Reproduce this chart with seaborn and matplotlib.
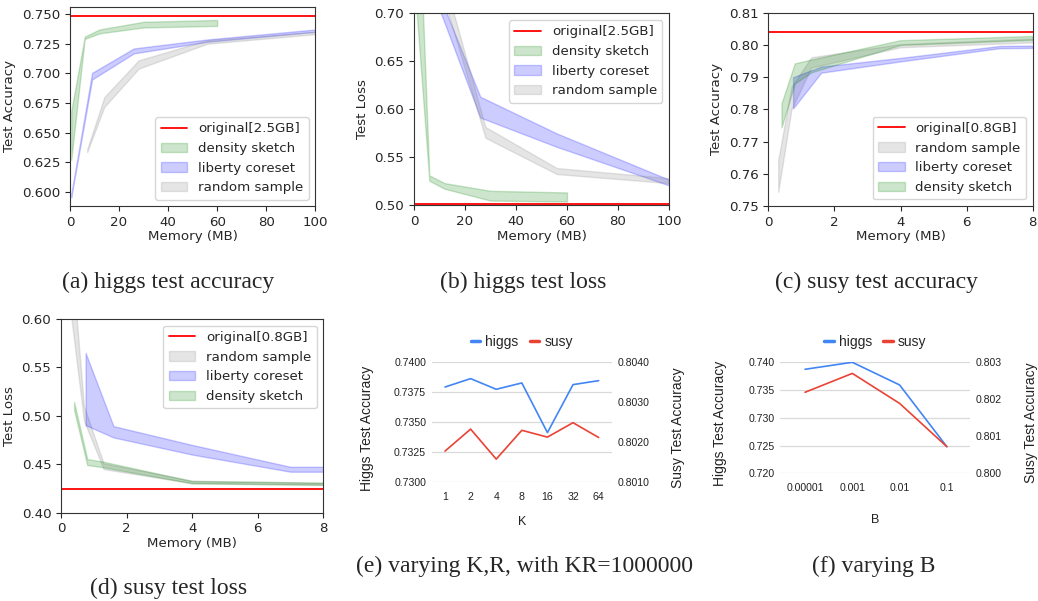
import numpy as np
import matplotlib
matplotlib.use("Agg")
import matplotlib.pyplot as plt
from matplotlib.lines import Line2D
import seaborn as sns

# memory sizes (MB) at which each method was run
higgs_density_mb = [0.5, 6, 12, 30, 60]
higgs_liberty_mb = [0.5, 9, 26, 56, 100]
higgs_random_mb = [7, 14, 28, 56, 100]
susy_density_mb = [0.4, 0.8, 1.3, 4, 8]
susy_liberty_mb = [0.75, 1.6, 4, 7, 8]
susy_random_mb = [0.3, 0.7, 1.3, 4, 8]

# (a) higgs test accuracy, lower / upper of band
a_density_lo = [0.627, 0.729, 0.7337, 0.7387, 0.740]
a_density_hi = [0.668, 0.731, 0.737, 0.7435, 0.745]
a_liberty_lo = [0.5955, 0.6948, 0.7168, 0.7266, 0.735]
a_liberty_hi = [0.598, 0.7004, 0.721, 0.7286, 0.737]
a_random_lo = [0.6337, 0.6717, 0.704, 0.7250, 0.733]
a_random_hi = [0.636, 0.680, 0.711, 0.7280, 0.735]
a_original = 0.7485

# (b) higgs test loss
b_density_lo = [0.72, 0.5258, 0.5174, 0.5051, 0.5041]
b_density_hi = [0.91, 0.5314, 0.5233, 0.5153, 0.5136]
b_liberty_lo = [0.85, 0.711, 0.5915, 0.561, 0.5209]
b_liberty_hi = [0.90, 0.725, 0.6132, 0.575, 0.5269]
b_random_lo = [0.76, 0.695, 0.5705, 0.5327, 0.5233]
b_random_hi = [0.78, 0.715, 0.5817, 0.539, 0.5285]
b_original = 0.502

# (c) susy test accuracy
c_density_lo = [0.7744, 0.788, 0.7915, 0.800, 0.8016]
c_density_hi = [0.7819, 0.7943, 0.7955, 0.8015, 0.8028]
c_liberty_lo = [0.7803, 0.7914, 0.7949, 0.7990, 0.7991]
c_liberty_hi = [0.790, 0.7933, 0.7960, 0.7997, 0.7998]
c_random_lo = [0.7544, 0.780, 0.793, 0.7993, 0.8008]
c_random_hi = [0.7643, 0.787, 0.7962, 0.8003, 0.8020]
c_original = 0.804

# (d) susy test loss
d_density_lo = [0.5059, 0.4492, 0.4468, 0.4303, 0.4287]
d_density_hi = [0.5144, 0.4554, 0.4526, 0.4327, 0.4310]
d_liberty_lo = [0.4904, 0.4777, 0.460, 0.4423, 0.4423]
d_liberty_hi = [0.565, 0.4894, 0.470, 0.4474, 0.4474]
d_random_lo = [0.6055, 0.495, 0.445, 0.4305, 0.4290]
d_random_hi = [0.674, 0.510, 0.451, 0.4330, 0.4310]
d_original = 0.4244

# (e) varying K
k_labels = ["1", "2", "4", "8", "16", "32", "64"]
k_higgs = [0.73794, 0.73864, 0.73775, 0.73828, 0.73414, 0.73814, 0.73847]
k_susy = [0.80178, 0.80233, 0.80158, 0.80230, 0.80213, 0.80249, 0.80212]

# (f) varying B
b_labels = ["0.00001", "0.001", "0.01", "0.1"]
b_higgs = [0.73874, 0.7400, 0.73592, 0.7248]
b_susy = [0.80219, 0.80270, 0.80189, 0.80072]

sns.set_style("ticks")
plt.rcParams["font.family"] = ["DejaVu Sans"]

W, H = 1038, 601
fig = plt.figure(figsize=(W / 100, H / 100), dpi=100)


def box(l, t, r, b):
    return [l / W, 1 - b / H, (r - l) / W, (b - t) / H]


def band_panel(pos, bands, original, orig_label, ylabel, xmax, ylim, yticks, yfmt, loc):
    ax = fig.add_axes(box(*pos))
    ax.axhline(original, color="red", lw=1.3, label=orig_label)
    for xs, lo, hi, color, label in bands:
        ax.fill_between(xs, lo, hi, color=color, alpha=0.2, label=label)
    ax.set_xlim(0, xmax)
    if ylim is not None:
        ax.set_ylim(*ylim)
    ax.set_yticks(yticks)
    ax.set_yticklabels([yfmt % t for t in yticks])
    ax.tick_params(labelsize=9.6)
    ax.set_xlabel("Memory (MB)", fontsize=9.6, labelpad=1)
    ax.set_ylabel(ylabel, fontsize=9.6)
    for s in ax.spines.values():
        s.set_visible(True)
        s.set_color("#333333")
        s.set_linewidth(0.8)
    ax.legend(loc=loc, fontsize=9.6)
    return ax


# (a)
ax_a = band_panel((70, 6.7, 315.3, 206.3),
                  [(higgs_density_mb, a_density_lo, a_density_hi, "green", "density sketch"),
                   (higgs_liberty_mb, a_liberty_lo, a_liberty_hi, "blue", "liberty coreset"),
                   (higgs_random_mb, a_random_lo, a_random_hi, "gray", "random sample")],
                  a_original, "original[2.5GB]", "Test Accuracy", 100, (0.5879, 0.7562),
                  [0.600, 0.625, 0.650, 0.675, 0.700, 0.725, 0.750], "%.3f", "lower right")

# (b)
ax_b = band_panel((414, 13.3, 669, 205.5),
                  [(higgs_density_mb, b_density_lo, b_density_hi, "green", "density sketch"),
                   (higgs_liberty_mb, b_liberty_lo, b_liberty_hi, "blue", "liberty coreset"),
                   (higgs_random_mb, b_random_lo, b_random_hi, "gray", "random sample")],
                  b_original, "original[2.5GB]", "Test Loss", 100, (0.50, 0.70),
                  [0.50, 0.55, 0.60, 0.65, 0.70], "%.2f", "upper right")

# (c)
ax_c = band_panel((768.3, 12.8, 1032.7, 206),
                  [(susy_random_mb, c_random_lo, c_random_hi, "gray", "random sample"),
                   (susy_liberty_mb, c_liberty_lo, c_liberty_hi, "blue", "liberty coreset"),
                   (susy_density_mb, c_density_lo, c_density_hi, "green", "density sketch")],
                  c_original, "original[0.8GB]", "Test Accuracy", 8, (0.75, 0.81),
                  [0.75, 0.76, 0.77, 0.78, 0.79, 0.80, 0.81], "%.2f", "lower right")

# (d)
ax_d = band_panel((61, 319, 323.3, 512.7),
                  [(susy_random_mb, d_random_lo, d_random_hi, "gray", "random sample"),
                   (susy_liberty_mb, d_liberty_lo, d_liberty_hi, "blue", "liberty coreset"),
                   (susy_density_mb, d_density_lo, d_density_hi, "green", "density sketch")],
                  d_original, "original[0.8GB]", "Test Loss", 8, (0.40, 0.60),
                  [0.40, 0.45, 0.50, 0.55, 0.60], "%.2f", "upper right")


def sheet_panel(pos, labels, higgs, susy, left_ticks, right_ticks, fmt, xlim, xlabel,
                ylab_x, ylab_y, leg_y, xlab_y):
    ax = fig.add_axes(box(*pos))
    ax2 = ax.twinx()
    xs = np.arange(len(labels))
    sns.lineplot(x=xs, y=higgs, ax=ax, color="#4285F4", lw=1.2, legend=False)
    sns.lineplot(x=xs, y=susy, ax=ax2, color="#EA4335", lw=1.2, legend=False)
    ax.set_xlim(*xlim)
    ax.set_ylim(left_ticks[0], left_ticks[-1])
    ax2.set_ylim(right_ticks[0], right_ticks[-1])
    ax.set_yticks(left_ticks)
    ax.set_yticklabels([fmt % t for t in left_ticks])
    ax2.set_yticks(right_ticks)
    ax2.set_yticklabels([fmt % t for t in right_ticks])
    ax.set_xticks(xs)
    ax.set_xticklabels(labels)
    ax.set_axisbelow(True)
    ax.yaxis.grid(True, color="#d9d9d9", lw=0.9)
    for a in (ax, ax2):
        for s in a.spines.values():
            s.set_visible(False)
        a.tick_params(length=0, labelsize=7.6, colors="#222222")
        for t in a.get_xticklabels() + a.get_yticklabels():
            t.set_family("Liberation Sans")
    ax.tick_params(axis="x", pad=7)
    ax.tick_params(axis="y", pad=4)
    ax2.tick_params(axis="y", pad=4)
    cx = (pos[0] + pos[2]) / 2
    fig.text(cx / W, 1 - xlab_y / H, xlabel, ha="center", va="center",
             fontsize=9, family="Liberation Sans", color="#222222")
    fig.text(ylab_x[0] / W, 1 - ylab_y / H, "Higgs Test Accuracy", rotation=90,
             ha="center", va="center", fontsize=10, family="Liberation Sans", color="#222222")
    fig.text(ylab_x[1] / W, 1 - ylab_y / H, "Susy Test Accuracy", rotation=90,
             ha="center", va="center", fontsize=10, family="Liberation Sans", color="#222222")
    handles = [Line2D([], [], color="#4285F4", lw=2.5),
               Line2D([], [], color="#EA4335", lw=2.5)]
    fig.legend(handles, ["higgs", "susy"], loc="center", ncol=2, frameon=False,
               bbox_to_anchor=(cx / W, 1 - leg_y / H), handlelength=0.7,
               handletextpad=0.35, columnspacing=0.8,
               prop={"family": "Liberation Sans", "size": 10})
    return ax


sheet_panel((431.7, 362.3, 611.7, 482.3), k_labels, k_higgs, k_susy,
            [0.7300, 0.7325, 0.7350, 0.7375, 0.7400], [0.8010, 0.8020, 0.8030, 0.8040],
            "%.4f", (-0.52, 6.51), "K", (367.3, 677.7), 428, 341.7, 521.7)

sheet_panel((780, 362.3, 970, 473.3), b_labels, b_higgs, b_susy,
            [0.720, 0.725, 0.730, 0.735, 0.740], [0.800, 0.801, 0.802, 0.803],
            "%.3f", (-0.53, 3.49), "B", (720, 1030.7), 423, 341.7, 520)

captions = ["(a) higgs test accuracy", "(b) higgs test loss", "(c) susy test accuracy",
            "(d) susy test loss", "(e) varying K,R, with KR=1000000", "(f) varying B"]
cap_pos = [(168.5, 282), (523, 282), (876.5, 282), (168.5, 588), (524.5, 566), (874, 566)]
for text, (cx, cy) in zip(captions, cap_pos):
    fig.text(cx / W, 1 - cy / H, text, ha="center", va="center",
             fontsize=17, family="Liberation Serif")

fig.savefig("out.png", dpi=100)
